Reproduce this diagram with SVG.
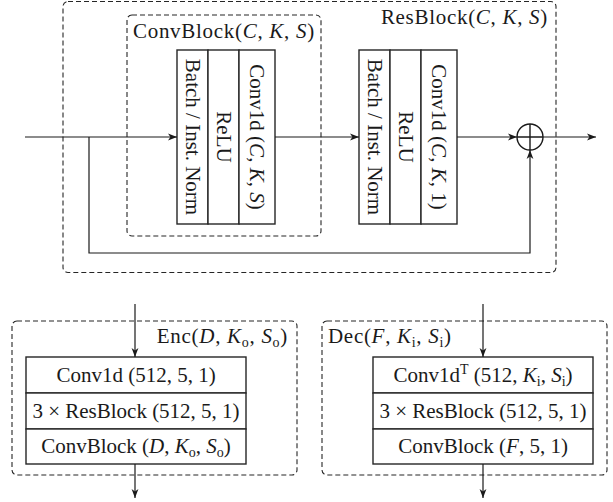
<svg xmlns="http://www.w3.org/2000/svg" width="613" height="502" viewBox="0 0 613 502">
<style>
text{font-family:"Liberation Serif","DejaVu Serif",serif;font-size:21px;fill:#1a1a1a}
.i{font-style:italic}
.lbl{letter-spacing:0.7px}
.box{fill:#fff;stroke:#262626;stroke-width:1.4}
.dash{fill:none;stroke:#262626;stroke-width:1.1;stroke-dasharray:5 3}
.ln{fill:none;stroke:#1a1a1a;stroke-width:1.2}
.arr{marker-end:url(#ah)}
</style>
<defs>
<marker id="ah" markerUnits="userSpaceOnUse" markerWidth="10" markerHeight="8" refX="9" refY="4" orient="auto">
<path d="M0,0.6 L9,4 L0,7.4 L2.4,4 Z" fill="#1a1a1a"/>
</marker>
</defs>

<g id="resblock">
<rect class="dash" x="63" y="1.5" width="493" height="271" rx="5"/>
<text class="lbl" x="548" y="24" text-anchor="end">ResBlock(<tspan class="i">C</tspan>, <tspan class="i">K</tspan>, <tspan class="i">S</tspan>)</text>
</g>

<g id="convblock">
<rect class="dash" x="127" y="15" width="194" height="221" rx="5"/>
<text class="lbl" x="133" y="38">ConvBlock(<tspan class="i">C</tspan>, <tspan class="i">K</tspan>, <tspan class="i">S</tspan>)</text>
</g>

<g id="stack1">
<rect class="box" x="177" y="50" width="31" height="174"/>
<rect class="box" x="208" y="50" width="31" height="174"/>
<rect class="box" x="239" y="50" width="36" height="174"/>
<text transform="translate(192.5,137) rotate(90)" x="0" y="7" text-anchor="middle">Batch / Inst. Norm</text>
<text transform="translate(223.5,137) rotate(90)" x="0" y="7" text-anchor="middle">ReLU</text>
<text transform="translate(257,137) rotate(90)" x="0" y="7" text-anchor="middle">Conv1d (<tspan class="i">C</tspan>, <tspan class="i">K</tspan>, <tspan class="i">S</tspan>)</text>
</g>

<g id="stack2">
<rect class="box" x="359" y="50" width="31" height="174"/>
<rect class="box" x="390" y="50" width="31" height="174"/>
<rect class="box" x="421" y="50" width="36" height="174"/>
<text transform="translate(374.5,137) rotate(90)" x="0" y="7" text-anchor="middle">Batch / Inst. Norm</text>
<text transform="translate(405.5,137) rotate(90)" x="0" y="7" text-anchor="middle">ReLU</text>
<text transform="translate(439,137) rotate(90)" x="0" y="7" text-anchor="middle">Conv1d (<tspan class="i">C</tspan>, <tspan class="i">K</tspan>, 1)</text>
</g>

<g id="sum">
<circle cx="530" cy="137" r="13" fill="none" stroke="#1a1a1a" stroke-width="1.4"/>
<path d="M517,137 H543 M530,124 V150" stroke="#1a1a1a" stroke-width="1.4"/>
</g>

<g id="enc">
<rect class="dash" x="12" y="321" width="285" height="154" rx="5"/>
<text class="lbl" x="288" y="343" text-anchor="end">Enc(<tspan class="i">D</tspan>, <tspan class="i">K</tspan><tspan font-size="14" dy="4">o</tspan><tspan dy="-4">, </tspan><tspan class="i">S</tspan><tspan font-size="14" dy="4">o</tspan><tspan dy="-4">)</tspan></text>
<rect class="box" x="26" y="357" width="220" height="36"/>
<rect class="box" x="26" y="393" width="220" height="36"/>
<rect class="box" x="26" y="429" width="220" height="35"/>
<text x="136" y="382" text-anchor="middle">Conv1d (512, 5, 1)</text>
<text x="136" y="418" text-anchor="middle">3 × ResBlock (512, 5, 1)</text>
<text x="136" y="453" text-anchor="middle">ConvBlock (<tspan class="i">D</tspan>, <tspan class="i">K</tspan><tspan font-size="14" dy="4">o</tspan><tspan dy="-4">, </tspan><tspan class="i">S</tspan><tspan font-size="14" dy="4">o</tspan><tspan dy="-4">)</tspan></text>
</g>

<g id="dec">
<rect class="dash" x="322" y="321" width="285" height="154" rx="5"/>
<text class="lbl" x="328" y="343">Dec(<tspan class="i">F</tspan>, <tspan class="i">K</tspan><tspan font-size="14" dy="4">i</tspan><tspan dy="-4">, </tspan><tspan class="i">S</tspan><tspan font-size="14" dy="4">i</tspan><tspan dy="-4">)</tspan></text>
<rect class="box" x="373" y="357" width="220" height="36"/>
<rect class="box" x="373" y="393" width="220" height="36"/>
<rect class="box" x="373" y="429" width="220" height="35"/>
<text x="483" y="382" text-anchor="middle">Conv1d<tspan font-size="14" dy="-8">T</tspan><tspan dy="8"> (512, </tspan><tspan class="i">K</tspan><tspan font-size="14" dy="4">i</tspan><tspan dy="-4">, </tspan><tspan class="i">S</tspan><tspan font-size="14" dy="4">i</tspan><tspan dy="-4">)</tspan></text>
<text x="483" y="418" text-anchor="middle">3 × ResBlock (512, 5, 1)</text>
<text x="483" y="453" text-anchor="middle">ConvBlock (<tspan class="i">F</tspan>, 5, 1)</text>
</g>

<g id="connectors">
<path class="ln arr" d="M25,137 H177"/>
<path class="ln arr" d="M89,137 V253 H530 V150"/>
<path class="ln arr" d="M275,137 H359"/>
<path class="ln arr" d="M457,137 H517"/>
<path class="ln arr" d="M543,137 H596"/>
<path class="ln arr" d="M135,304 V357"/>
<path class="ln arr" d="M135,464 V498"/>
<path class="ln arr" d="M483,304 V357"/>
<path class="ln arr" d="M483,464 V498"/>
</g>
</svg>
